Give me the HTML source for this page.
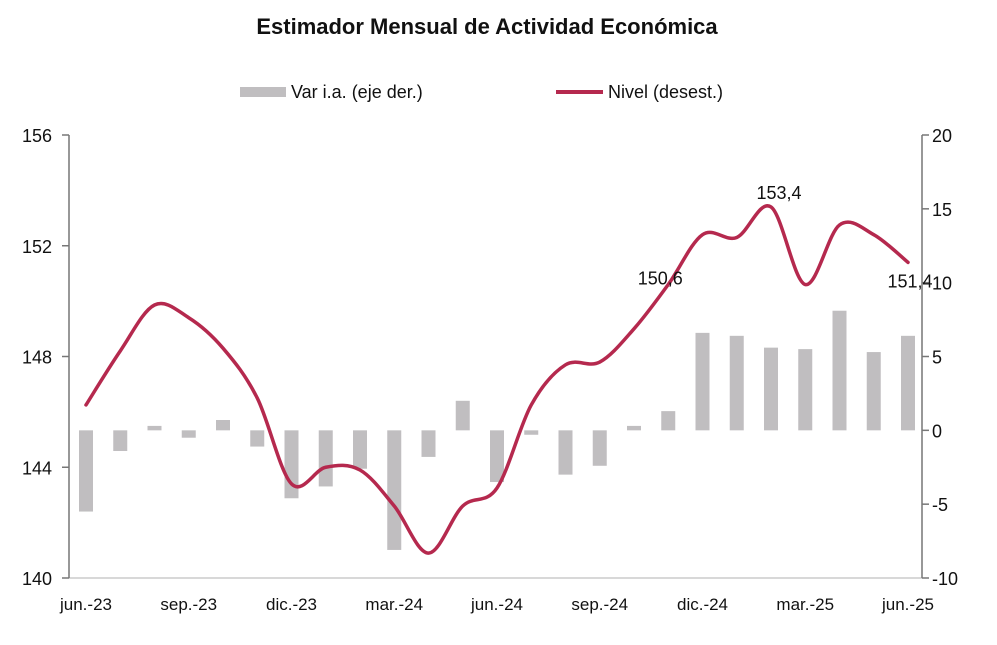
<!DOCTYPE html>
<html><head><meta charset="utf-8"><style>
body{margin:0;background:#fff;font-family:"Liberation Sans",sans-serif}
svg text{font-family:"Liberation Sans",sans-serif;fill:#111}
</style></head><body>
<svg width="997" height="640">
<text x="487" y="34" text-anchor="middle" font-size="22" font-weight="bold">Estimador Mensual de Actividad Económica</text>
<g>
<rect x="240" y="87" width="46" height="10" fill="#c0bec0"/>
<text x="291" y="98" font-size="18">Var i.a. (eje der.)</text>
<line x1="556" y1="92" x2="603" y2="92" stroke="#b5294e" stroke-width="4"/>
<text x="608" y="98" font-size="18">Nivel (desest.)</text>
</g>
<g id="axes"></g>
<g id="bars"></g>
<path id="line" fill="none" stroke="#b5294e" stroke-width="3.5" stroke-linejoin="round" stroke-linecap="round"/>
<g id="labels"></g>
</svg>
<script>
const months=["jun.-23","jul.-23","ago.-23","sep.-23","oct.-23","nov.-23","dic.-23","ene.-24","feb.-24","mar.-24","abr.-24","may.-24","jun.-24","jul.-24","ago.-24","sep.-24","oct.-24","nov.-24","dic.-24","ene.-25","feb.-25","mar.-25","abr.-25","may.-25","jun.-25"];
const varIA=[-5.5,-1.4,0.3,-0.5,0.7,-1.1,-4.6,-3.8,-2.6,-8.1,-1.8,2.0,-3.5,-0.3,-3.0,-2.4,0.3,1.3,6.6,6.4,5.6,5.5,8.1,5.3,6.4];
const nivel=[146.25,148.2,149.86,149.4,148.3,146.5,143.4,144.0,143.9,142.6,140.9,142.6,143.25,146.25,147.7,147.8,149.0,150.6,152.4,152.3,153.4,150.6,152.75,152.4,151.4];
const leftTicks=[140,144,148,152,156];
const rightTicks=[-10,-5,0,5,10,15,20];
const labelIdx=[17,20,24];
const NS="http://www.w3.org/2000/svg";
const x=i=>86+i*(908-86)/24;
const yL=v=>578-(v-140)*(443/16);
const yR=v=>578-(v+10)*(443/30);
function mk(t,a,p){const e=document.createElementNS(NS,t);for(const k in a)e.setAttribute(k,a[k]);p.appendChild(e);return e;}
const ax=document.getElementById('axes');
let e=mk('line',{x1:69,y1:578,x2:922,y2:578,stroke:'#d8d8d8','stroke-width':2},ax);


e=mk('line',{x1:69,y1:135,x2:69,y2:578,stroke:'#777','stroke-width':1.5},ax);


e=mk('line',{x1:922,y1:135,x2:922,y2:578,stroke:'#777','stroke-width':1.5},ax);


leftTicks.forEach(v=>{mk('line',{x1:62,y1:yL(v),x2:69,y2:yL(v),stroke:'#777','stroke-width':1.5},ax);
const t=mk('text',{x:52,y:yL(v)+7,'text-anchor':'end','font-size':18},ax);t.textContent=v;

});
rightTicks.forEach(v=>{mk('line',{x1:922,y1:yR(v),x2:929,y2:yR(v),stroke:'#777','stroke-width':1.5},ax);
const t=mk('text',{x:932,y:yR(v)+7,'font-size':18},ax);t.textContent=v;

});
months.forEach((m,i)=>{if(i%3)return;const t=mk('text',{x:x(i),y:610,'text-anchor':'middle','font-size':17},ax);t.textContent=m;

});
const bg=document.getElementById('bars');
varIA.forEach((v,i)=>{const y0=yR(0),y1=yR(v);const r=mk('rect',{x:x(i)-7,y:Math.min(y0,y1),width:14,height:Math.abs(y1-y0),fill:'#c0bec0'},bg);

});
const P=nivel.map((v,i)=>[x(i),yL(v)]);
let d='M'+P[0][0]+','+P[0][1];
for(let i=0;i<P.length-1;i++){const p0=P[i-1]||P[i],p1=P[i],p2=P[i+1],p3=P[i+2]||P[i+1];
d+=` C${p1[0]+(p2[0]-p0[0])/6},${p1[1]+(p2[1]-p0[1])/6} ${p2[0]-(p3[0]-p1[0])/6},${p2[1]-(p3[1]-p1[1])/6} ${p2[0]},${p2[1]}`;}
document.getElementById('line').setAttribute('d',d);
const lg=document.getElementById('labels');
const offs={17:[-8,0],20:[8,-8],24:[2,25]};
labelIdx.forEach(i=>{const o=offs[i]||[0,-10];const t=mk('text',{x:x(i)+o[0],y:yL(nivel[i])+o[1],'text-anchor':'middle','font-size':18},lg);
t.textContent=nivel[i].toFixed(1).replace('.',',');

});
</script>
</body></html>
